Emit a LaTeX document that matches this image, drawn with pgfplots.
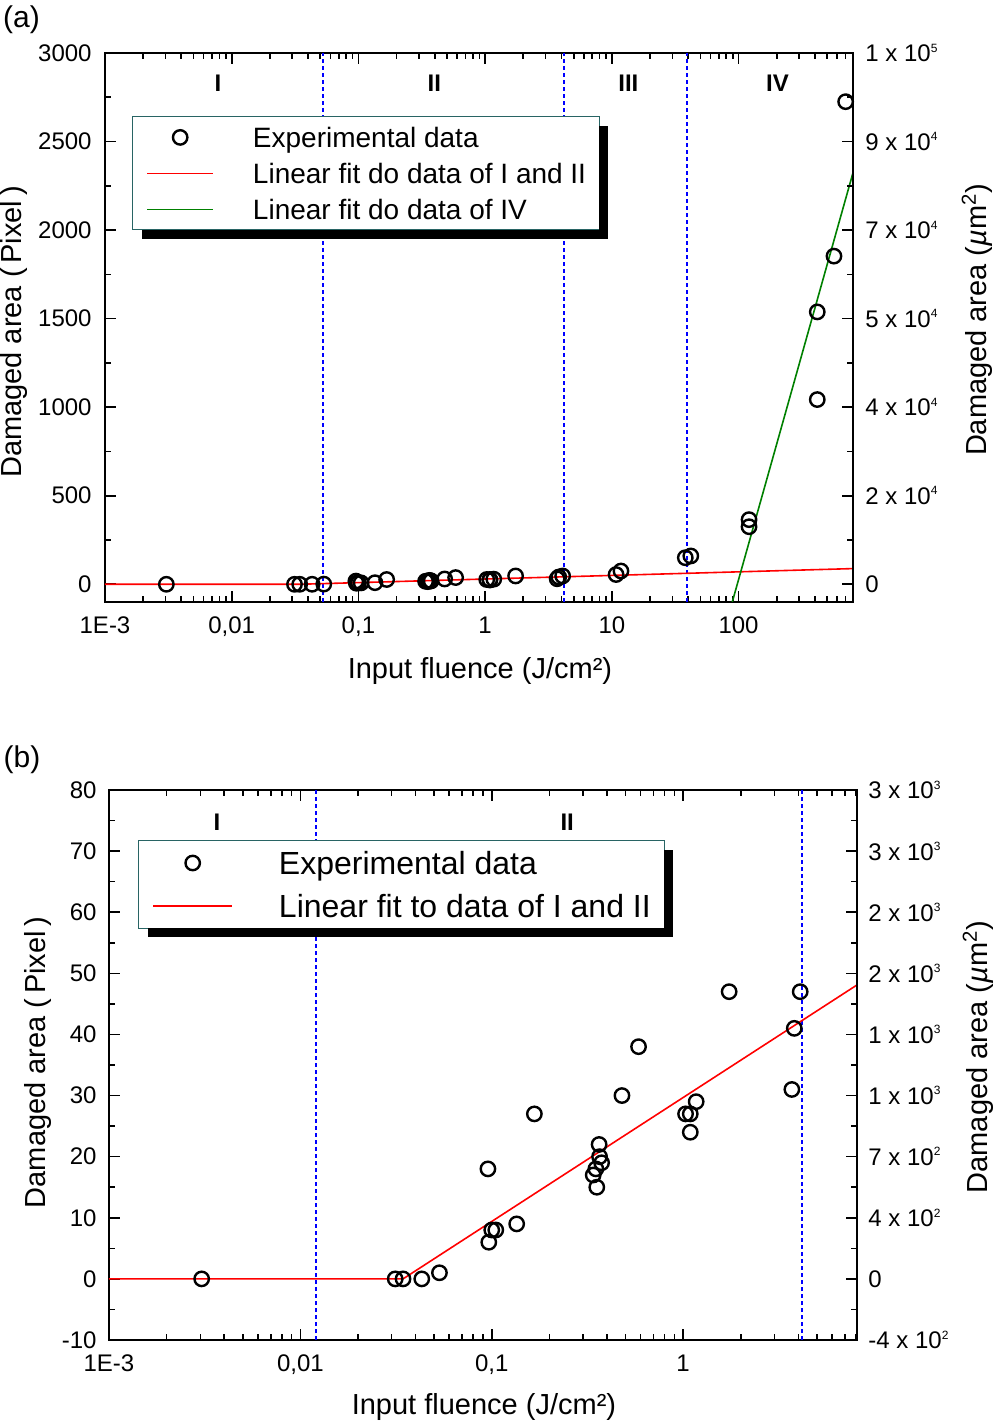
\documentclass[border=0pt]{standalone}
\usepackage{fontspec}
\setmainfont{Liberation Sans}
\usepackage{pgfplots}
\usepackage{pgfplotstable}
\pgfplotsset{compat=1.18}

% small raised exponent for the right-hand tick labels
\newcommand\sq[1]{\raisebox{4.8pt}{\fontsize{6pt}{7pt}\selectfont #1}}
\newcommand\rnum[1]{{\bfseries\fontsize{12pt}{14pt}\selectfont #1}}

\pgfplotstableread{
x y
0.00305 0
0.0313 0
0.0344 0
0.0431 0
0.0533 1
0.0955 18
0.0965 6
0.100 8
0.105 8
0.135 9
0.167 27
0.339 17
0.350 18
0.354 15
0.364 22
0.366 20
0.375 19
0.479 30
0.585 38
1.03 27
1.09 27
1.09 24
1.17 29
1.74 47
3.70 31
3.81 41
4.09 47
}\dataLow

\pgfplotstableread{
x y
10.8 55
11.8 75
38 150
42 160
121 365
121 325
418 1043
418 1538
566 1853
700 2725
}\dataHigh

\definecolor{legbord}{RGB}{40,100,100}
\definecolor{fitgreen}{RGB}{0,128,0}
\pgfplotsset{
  every tick/.style={black, line width=0.8pt},
  tick label style={font=\fontsize{12pt}{14pt}\selectfont},
  label style={font=\fontsize{14.5pt}{17pt}\selectfont},
  /pgf/number format/assume math mode=true,
  /pgf/number format/1000 sep={},
}

\begin{document}
\begin{tikzpicture}
\useasboundingbox (0,0) rectangle (497.5pt,712.5pt);

\node[font=\fontsize{15pt}{17pt}\selectfont] at (10.75pt,702.5pt) {(a)};
\node[font=\fontsize{15pt}{17pt}\selectfont] at (11pt,332.5pt) {(b)};

% ---------- (a) ----------
\begin{axis}[
  scale only axis, width=374pt, height=274.5pt,
  at={(52.5pt,411.5pt)}, anchor=south west,
  xmode=log,
  tick align=inside, major tick length=5.5pt, minor tick length=3pt,
  axis line style={line width=1pt},
  xmin=0.001, xmax=800, ymin=-100, ymax=3000,
  xtick={0.001,0.01,0.1,1,10,100},
  xticklabels={1E-3,{0,01},{0,1},1,10,100},
  minor xtick={0.002,0.003,0.004,0.005,0.006,0.007,0.008,0.009,
    0.02,0.03,0.04,0.05,0.06,0.07,0.08,0.09,0.2,0.3,0.4,0.5,0.6,0.7,0.8,0.9,
    2,3,4,5,6,7,8,9,20,30,40,50,60,70,80,90,200,300,400,500,600,700,800},
  ytick={0,500,1000,1500,2000,2500,3000},
  yticklabels={0,500,1000,1500,2000,2500,3000},
  minor ytick={250,750,1250,1750,2250,2750},
  ytick pos=left,
  xticklabel style={anchor=base, yshift=-15.75pt},
  yticklabel style={anchor=east, inner sep=0pt, xshift=-6.5pt},
  xlabel={Input fluence (J/cm²)},
  ylabel={Damaged area (\,Pixel\,)},
  xlabel style={at={(axis description cs:0.5013,-0.1248)}, anchor=center},
  ylabel style={at={(axis description cs:-0.1217,0.492)}, anchor=center},
  legend cell align=left,
  legend style={at={(axis description cs:0.0374,0.8834)}, anchor=north west,
    name=lega, draw=none, fill=white,
    inner xsep=6.5pt, inner ysep=3.5pt, row sep=5pt, column sep=19.5pt,
    font=\fontsize{14pt}{16pt}\selectfont,
    nodes={inner sep=0pt, text height=11.5pt, text depth=1.5pt}},
]
\addplot[blue, line width=1pt, dash pattern=on 2pt off 1.5pt, forget plot] coordinates {(0.053,-100) (0.053,3000)};
\addplot[blue, line width=1pt, dash pattern=on 2pt off 1.5pt, forget plot] coordinates {(4.2,-100) (4.2,3000)};
\addplot[blue, line width=1pt, dash pattern=on 2pt off 1.5pt, forget plot] coordinates {(39,-100) (39,3000)};
\addplot[only marks, mark=o, mark size=3.6pt, line width=1.2pt, black, forget plot] table {\dataLow};
\addplot[only marks, mark=o, mark size=3.6pt, line width=1.2pt, black, forget plot] table {\dataHigh};
\addplot[red, line width=0.8pt, forget plot] coordinates {(0.001,0) (0.0344,0) (800,88.6)};
\addplot[fitgreen, line width=0.8pt, forget plot] coordinates {(89.2,-100) (800,2324)};
\addlegendimage{legend image code/.code={\draw[black, line width=1.2pt] (16.5pt,0pt) circle[radius=3.6pt];}}
\addlegendentry{Experimental data}
\addlegendimage{legend image code/.code={\draw[red, line width=0.8pt] (0pt,0pt) -- (33pt,0pt);}}
\addlegendentry{Linear fit do data of I and II}
\addlegendimage{legend image code/.code={\draw[fitgreen, line width=0.8pt] (0pt,0pt) -- (33pt,0pt);}}
\addlegendentry{Linear fit do data of IV}
\node at (axis cs:0.0078,2830) {\rnum{I}};
\node at (axis cs:0.397,2830) {\rnum{II}};
\node at (axis cs:13.5,2830) {\rnum{III}};
\node at (axis cs:203,2830) {\rnum{IV}};
\end{axis}

\begin{axis}[
  scale only axis, width=374pt, height=274.5pt,
  at={(52.5pt,411.5pt)}, anchor=south west,
  xmode=log,
  tick align=inside, major tick length=5.5pt, minor tick length=3pt,
  axis line style={line width=1pt},
  xmin=0.001, xmax=800, ymin=-100, ymax=3000,
  axis x line=none, axis y line*=right,
  ytick={0,500,1000,1500,2000,2500,3000},
  minor ytick={250,750,1250,1750,2250,2750},
  yticklabels={0, 2 x 10\sq{4}, 4 x 10\sq{4}, 5 x 10\sq{4}, 7 x 10\sq{4}, 9 x 10\sq{4}, 1 x 10\sq{5}},
  yticklabel style={anchor=west, inner sep=0pt, xshift=6pt},
  ylabel={Damaged area ({\itshape µ}m\textsuperscript{2})},
  ylabel style={at={(axis description cs:1.1658,0.514)}, anchor=center},
]
\end{axis}

% border and shadow of legend (a)
\draw[legbord, line width=0.5pt] (lega.south west) rectangle (lega.north east);
\fill[black] ([xshift=4.5pt]lega.south west) rectangle ([xshift=4.5pt,yshift=-4.5pt]lega.south east);
\fill[black] ([yshift=-4.5pt]lega.north east) rectangle ([xshift=4.5pt,yshift=-4.5pt]lega.south east);

% ---------- (b) ----------
\begin{axis}[
  scale only axis, width=374pt, height=275pt,
  at={(54.5pt,42.5pt)}, anchor=south west,
  xmode=log,
  tick align=inside, major tick length=5.5pt, minor tick length=3pt,
  axis line style={line width=1pt},
  xmin=0.001, xmax=8.1, ymin=-10, ymax=80,
  xtick={0.001,0.01,0.1,1},
  xticklabels={1E-3,{0,01},{0,1},1},
  minor xtick={0.002,0.003,0.004,0.005,0.006,0.007,0.008,0.009,
    0.02,0.03,0.04,0.05,0.06,0.07,0.08,0.09,0.2,0.3,0.4,0.5,0.6,0.7,0.8,0.9,
    2,3,4,5,6,7,8},
  ytick={-10,0,10,20,30,40,50,60,70,80},
  minor ytick={-5,5,15,25,35,45,55,65,75},
  ytick pos=left,
  xticklabel style={anchor=base, yshift=-15.75pt},
  yticklabel style={anchor=east, inner sep=0pt, xshift=-6pt},
  xlabel={Input fluence (J/cm²)},
  ylabel={Damaged area (\,Pixel\,)},
  xlabel style={at={(axis description cs:0.5013,-0.1227)}, anchor=center},
  ylabel style={at={(axis description cs:-0.0949,0.505)}, anchor=center},
  legend cell align=left,
  legend style={at={(axis description cs:0.0401,0.9073)}, anchor=north west,
    name=legb, draw=none, fill=white,
    inner xsep=6.5pt, inner ysep=3.5pt, row sep=6.9pt, column sep=23pt,
    font=\fontsize{16pt}{18pt}\selectfont,
    nodes={inner sep=0pt, text height=13pt, text depth=1.6pt}},
]
\addplot[blue, line width=1pt, dash pattern=on 2pt off 1.5pt, forget plot] coordinates {(0.0121,-10) (0.0121,80)};
\addplot[blue, line width=1pt, dash pattern=on 2pt off 1.5pt, forget plot] coordinates {(4.19,-10) (4.19,80)};
\addplot[only marks, mark=o, mark size=3.6pt, line width=1.2pt, black, forget plot] table {\dataLow};
\addplot[red, line width=0.8pt, forget plot] coordinates {(0.001,0) (0.0344,0) (8.1,48.1)};
\addlegendimage{legend image code/.code={\draw[black, line width=1.2pt] (19.75pt,0pt) circle[radius=3.6pt];}}
\addlegendentry{Experimental data}
\addlegendimage{legend image code/.code={\draw[red, line width=0.8pt] (0pt,0pt) -- (39.5pt,0pt);}}
\addlegendentry{Linear fit to data of I and II}
\node at (axis cs:0.00367,74.8) {\rnum{I}};
\node at (axis cs:0.248,74.8) {\rnum{II}};
\end{axis}

\begin{axis}[
  scale only axis, width=374pt, height=275pt,
  at={(54.5pt,42.5pt)}, anchor=south west,
  xmode=log,
  tick align=inside, major tick length=5.5pt, minor tick length=3pt,
  axis line style={line width=1pt},
  xmin=0.001, xmax=8.1, ymin=-10, ymax=80,
  axis x line=none, axis y line*=right,
  ytick={-10,0,10,20,30,40,50,60,70,80},
  minor ytick={-5,5,15,25,35,45,55,65,75},
  yticklabels={-4 x 10\sq{2}, 0, 4 x 10\sq{2}, 7 x 10\sq{2}, 1 x 10\sq{3}, 1 x 10\sq{3}, 2 x 10\sq{3}, 2 x 10\sq{3}, 3 x 10\sq{3}, 3 x 10\sq{3}},
  yticklabel style={anchor=west, inner sep=0pt, xshift=5.5pt},
  ylabel={Damaged area ({\itshape µ}m\textsuperscript{2})},
  ylabel style={at={(axis description cs:1.1618,0.5145)}, anchor=center},
]
\end{axis}

% border and shadow of legend (b)
\draw[legbord, line width=0.5pt] (legb.south west) rectangle (legb.north east);
\fill[black] ([xshift=4.5pt]legb.south west) rectangle ([xshift=4.5pt,yshift=-4.5pt]legb.south east);
\fill[black] ([yshift=-4.5pt]legb.north east) rectangle ([xshift=4.5pt,yshift=-4.5pt]legb.south east);
\end{tikzpicture}
\end{document}
